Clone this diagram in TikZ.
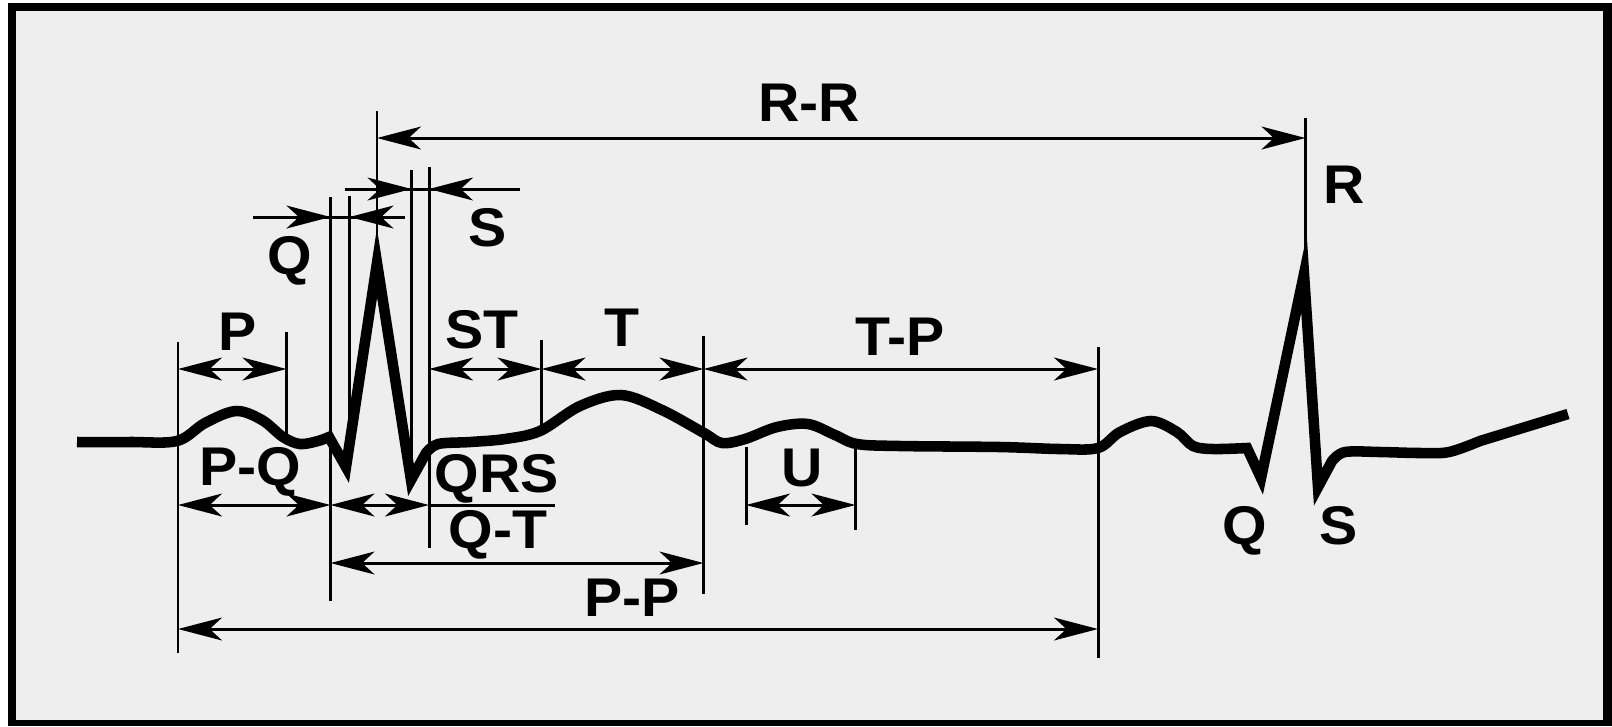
\documentclass[tikz,border=0pt]{standalone}
\usepackage{fontspec}
\newfontfamily\labfont{Liberation Sans}[FakeStretch=1.05]
\usetikzlibrary{arrows.meta}
\definecolor{bgc}{RGB}{238,238,238}
\tikzset{
  ecg/.style={line width=3pt, line join=miter, miter limit=12},
  guide/.style={line width=0.85pt},
  tipS/.tip={Stealth[length=12.5pt,width=6.5pt,inset=3.5pt]},
  dim/.style={line width=0.85pt, tipS-tipS},
  onehead/.style={line width=0.85pt, -tipS},
  lab/.style={font=\labfont\bfseries\fontsize{15.5}{18}\selectfont, inner sep=0pt, anchor=base},
}
\begin{document}
\begin{tikzpicture}[x=0.01cm, y=-0.01cm]
\useasboundingbox (0,0) rectangle (1612,726);
% frame
\fill[white] (0,0) rectangle (1612,726);
\fill[black] (8,3) rectangle (1612,726);
\fill[bgc] (16,11) rectangle (1603,720);

% vertical guide lines
\foreach \n/\x/\t/\b in {vPs/178/342/653, vPe/286.5/332/436, vQs/330.5/197/601,
  vQe/349.5/196/465, vR/377/111/245, vSs/411.5/170/480, vSe/429/167/548,
  vSTe/541.5/340/431, vTe/703.5/336/594, vUs/746/447/525, vUe/855.5/447/530,
  vTPe/1098/347/658, vR2/1305.5/118/262}{
  \coordinate (\n-t) at (\x,\t);
  \coordinate (\n-b) at (\x,\b);
  \draw[guide] (\n-t) -- (\n-b);
}

% levels
\coordinate (yRR) at (0,138);
\coordinate (yS) at (0,189);
\coordinate (yQ) at (0,217);
\coordinate (yP) at (0,369);
\coordinate (yPQ) at (0,505);
\coordinate (yQT) at (0,563);
\coordinate (yPP) at (0,629);
\coordinate (qL) at (253,217);
\coordinate (qR) at (405,217);
\coordinate (sL) at (345,189);
\coordinate (sR) at (520,189);
\coordinate (qrsEnd) at (555,505);

% dimension arrows
\draw[dim] (vR-t |- yRR) -- (vR2-t |- yRR);
\draw[guide] (sL) -- (sR);
\draw[onehead] (sL) -- (vSs-t |- yS);
\draw[onehead] (sR) -- (vSe-t |- yS);
\draw[guide] (qL) -- (qR);
\draw[onehead] (qL) -- (vQs-t |- yQ);
\draw[onehead] (qR) -- (vQe-t |- yQ);
\draw[dim] (vPs-t |- yP) -- (vPe-t |- yP);
\draw[dim] (vSe-t |- yP) -- (vSTe-t |- yP);
\draw[dim] (vSTe-t |- yP) -- (vTe-t |- yP);
\draw[dim] (vTe-t |- yP) -- (vTPe-t |- yP);
\draw[dim] (vPs-t |- yPQ) -- (vQs-t |- yPQ);
\draw[dim] (vQs-t |- yPQ) -- (vSe-t |- yPQ);
\draw[guide] (vSe-t |- yPQ) -- (qrsEnd);
\draw[dim] (vUs-t |- yPQ) -- (vUe-t |- yPQ);
\draw[dim] (vQs-t |- yQT) -- (vTe-t |- yQT);
\draw[dim] (vPs-t |- yPP) -- (vTPe-t |- yPP);

% ECG trace
\draw[ecg] plot[smooth, tension=0.55] coordinates {(77,442) (130,442) (177,441) (205,423) (236,411) (262,420) (283,437) (300,444) (318,441) (329,437)}
  -- (346,467) -- (377,263) -- (411,480) -- (426,453)
  -- plot[smooth, tension=0.55] coordinates {(426,453) (438,444) (470,442) (505,439) (540,431) (580,406) (621,395) (662,410) (704,433) (722,443) (745,439) (777,427) (808,424) (835,435) (857,444) (900,446) (1000,447) (1060,449) (1098,448) (1120,432) (1151,421) (1177,432) (1193,446) (1213,449) (1247,448)}
  -- (1261,478) -- (1304,274) -- (1318,487) -- (1332,461)
  -- plot[smooth, tension=0.55] coordinates {(1332,461) (1345,452) (1380,452) (1420,453) (1449,452) (1480,441)}
  -- (1568,414);

% labels
\node[lab] (lRR) at (809,121) {R-R};
\node[lab] (lS) at (488,246) {S};
\node[lab] (lQ) at (290,274) {Q};
\node[lab] (lP) at (238,350) {P};
\node[lab] (lST) at (482,348) {ST};
\node[lab] (lT) at (622,346) {T};
\node[lab] (lTP) at (900,355) {T-P};
\node[lab] (lPQ) at (250,485) {P-Q};
\node[lab] (lQRS) at (497,492) {QRS};
\node[lab] (lQT) at (498,548) {Q-T};
\node[lab] (lU) at (802,486) {U};
\node[lab] (lPP) at (632,616) {P-P};
\node[lab] (lR2) at (1344,203) {R};
\node[lab] (lQ2) at (1245,544) {Q};
\node[lab] (lS2) at (1339,544) {S};
\end{tikzpicture}
\end{document}
